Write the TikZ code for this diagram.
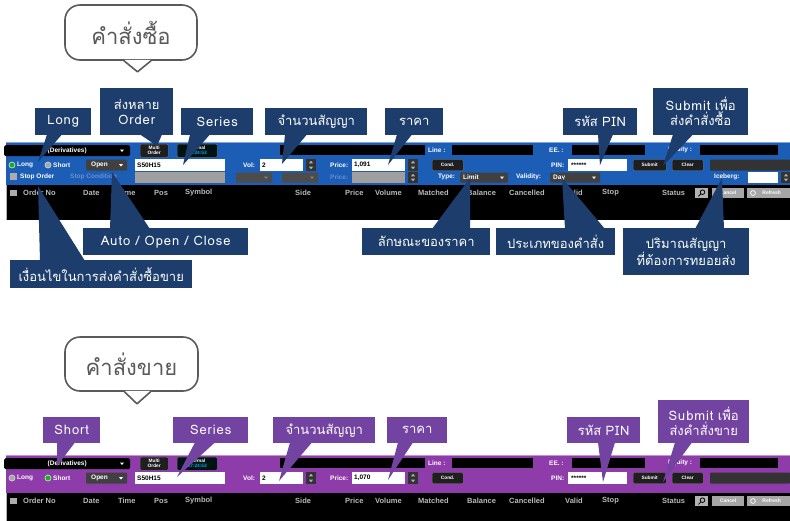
\documentclass[tikz,border=0pt]{standalone}
\usepackage{fontspec}
\setmainfont{Liberation Sans}
\newfontfamily\thai[Script=Thai]{Loma}
\newfontfamily\lw[LetterSpace=7]{Loma}
\usetikzlibrary{calc}
\definecolor{navy}{HTML}{1D3D6C}
\definecolor{pblue}{HTML}{1C5DB6}
\definecolor{plum}{HTML}{7343A2}
\definecolor{ppurp}{HTML}{8D3CA9}
\definecolor{dimtxt}{HTML}{6A8FD0}
\definecolor{bubgray}{HTML}{5A5A5A}
\newcommand\dd[3]{\fill[#3] (#1-2,#2-1) -- (#1+2,#2-1) -- (#1,#2+1.5) -- cycle;}
\newcommand\spin[3]{\fill[black!80] (#1,#2) rectangle ++(10,#3);
 \fill[gray!60] (#1+5,#2+1.8) -- (#1+3,#2+4.3) -- (#1+7,#2+4.3) -- cycle;
 \fill[gray!60] (#1+5,#2+#3-1.8) -- (#1+3,#2+#3-4.3) -- (#1+7,#2+#3-4.3) -- cycle;}
\newcommand\tailS[5]{\fill[#1] ($(#2.south west)+(#3,-1)$) -- (#5) -- ($(#2.south west)+(#4,-1)$) -- cycle;}
\newcommand\tailN[5]{\fill[#1] ($(#2.north west)+(#3,1)$) -- (#5) -- ($(#2.north west)+(#4,1)$) -- cycle;}
% #1 prefix, #2 panel colour, #3 long radio, #4 short radio, #5 price, #6 black top, #7 black bottom, #8 y shift
\newcommand\uipanel[8]{%
\begin{scope}[shift={(0,#8)}, name prefix=#1-]
 \fill[#2] (6,0) rectangle (790,#6);
 \fill[#2!55!white] (6,0) rectangle (790,1.2);
 \fill[black] (6,#6) rectangle (790,#7);
 \draw[gray!60, line width=0.6] (6,#6) -- (6,#7);
 % row 1
 \node[ddbox, anchor=north west, minimum width=126, minimum height=11] (deriv) at (4,3) {(Derivatives)};
 \dd{122}{8.5}{white}
 \node[btn, anchor=north west, minimum width=28, minimum height=13] (multi) at (140,2) {Multi\\Order};
 \node[btn, fill=black!85!teal, anchor=north west, minimum width=40, minimum height=13] (normal) at (177,2) {Normal\\\textcolor{cyan}{17:24:53}};
 \fill[black] (280,3) rectangle (425,13);
 \node[ui] (linel) at (428,8) {Line :};
 \fill[black] (452,3) rectangle (533,13);
 \node[ui] (eel) at (549,8) {EE. :};
 \fill[black] (572,3) rectangle (645,13);
 \node[ui] (eql) at (668,8) {Equity :};
 \fill[black] (700,3) rectangle (778,13);
 % row 2
 \fill[#3, draw=gray!40, line width=0.8] (12,23) circle (3);
 \node[ui] (tlong) at (17,23) {Long};
 \fill[#4, draw=gray!40, line width=0.8] (48,23) circle (3);
 \node[ui] (tshort) at (53,23) {Short};
 \fill[black!75, rounded corners=1] (86,17.5) rectangle (127,28.5);
 \node[ui] (open) at (91,23) {Open};
 \dd{121}{23}{white}
 \fill[white] (135,17) rectangle (225,29);
 \node[ftxt] (series) at (137,23) {S50H15};
 \node[ui] (voll) at (243,23) {Vol:};
 \fill[white] (260,17) rectangle (303,29);
 \node[ftxt] (volf) at (262,23) {2};
 \spin{306}{17}{12}
 \node[ui] (pricel) at (330,23) {Price:};
 \fill[white] (352,17) rectangle (405,29);
 \node[ftxt] (pricef) at (354,23) {#5};
 \spin{408}{17}{12}
 \node[btn, anchor=north west, minimum width=31, minimum height=11] (cond) at (432,17.5) {Cond.};
 \node[ui] (pinl) at (551,23) {PIN:};
 \fill[white] (568,17) rectangle (627,29);
 \node[ftxt] (pinf) at (571,23) {******};
 \node[btn, anchor=north west, minimum width=33, minimum height=11] (submit) at (633,17.5) {Submit};
 \node[btn, anchor=north west, minimum width=31, minimum height=11] (clear) at (672,17.5) {Clear};
 \fill[black!80, rounded corners=1] (710,17.5) rectangle (790,28.5);
 % header
 \fill[gray!65] (10,#6+5) rectangle ++(7,6);
 \node[hdr] (h1) at (23,#6+8) {Order No};
 \node[hdr] (h2) at (83,#6+8) {Date};
 \node[hdr] (h3) at (118,#6+8) {Time};
 \node[hdr] (h4) at (154,#6+8) {Pos};
 \node[hdr] (h5) at (185,#6+8) {Symbol};
 \node[hdr] (h6) at (295,#6+8) {Side};
 \node[hdr] (h7) at (345,#6+8) {Price};
 \node[hdr] (h8) at (375,#6+8) {Volume};
 \node[hdr] (h9) at (418,#6+8) {Matched};
 \node[hdr] (h10) at (467,#6+8) {Balance};
 \node[hdr] (h11) at (509,#6+8) {Cancelled};
 \node[hdr] (h12) at (565,#6+8) {Valid};
 \node[hdr] (h13) at (602,#6+8) {Stop};
 \node[hdr] (h14) at (662,#6+8) {Status};
 \fill[gray!60] (695,#6+3) rectangle (708,#6+13);
 \draw[black, line width=0.8] (702.5,#6+7.2) circle (2.3) (700.8,#6+9) -- (698.5,#6+11.3);
 \node[gbtn, anchor=north west, minimum width=32, minimum height=10] (cancel) at (712,#6+3) {Cancel};
 \node[gbtn, anchor=north west, minimum width=43, minimum height=10] (refresh) at (747,#6+3) {\hspace{6pt}Refresh};
 \draw[white, line width=0.7] (753,#6+8) circle (2.4);
\end{scope}}
\begin{document}
\begin{tikzpicture}[x=1pt,y=-1pt,
  lab/.style={fill=#1, text=white, font=\thai\fontsize{13}{15}\selectfont, inner sep=0, align=center, anchor=north west},
  ui/.style={text=white, font=\bfseries\fontsize{6.5}{7}\selectfont, inner sep=0, anchor=west},
  dim/.style={text=dimtxt, font=\bfseries\fontsize{6.5}{7}\selectfont, inner sep=0, anchor=west},
  ftxt/.style={text=black, font=\bfseries\fontsize{6.5}{7}\selectfont, inner sep=0, anchor=west},
  hdr/.style={text=gray!55!white, font=\bfseries\fontsize{7.5}{8}\selectfont, inner sep=0, anchor=west},
  ddbox/.style={fill=black, rounded corners=1.5, text=white, font=\bfseries\fontsize{6.5}{7}\selectfont, inner sep=0},
  btn/.style={fill=black!88, draw=black!55, rounded corners=1, text=white, font=\bfseries\fontsize{4.8}{5}\selectfont, inner sep=0, align=center},
  gbtn/.style={fill=gray!70, text=white, font=\bfseries\fontsize{5}{6}\selectfont, inner sep=0},
  bubble/.style={draw=bubgray, line width=1.6, fill=white, rounded corners=15, text=bubgray, font=\thai\fontsize{22}{24}\selectfont, inner sep=0}]
\useasboundingbox (0,0) rectangle (790,520);
\fill[white] (0,0) rectangle (790,520);

% ===== top panel (buy) =====
\uipanel{A}{pblue}{green!75!black}{gray!70}{1,091}{43}{78}{142}
\begin{scope}[shift={(0,142)}, name prefix=A-]
 \fill[gray!65] (10,31) rectangle ++(7,7);
 \node[ui] (stop) at (20,35) {Stop Order};
 \node[dim] (stopc) at (70,35) {Stop Condition};
 \fill[gray!75] (135,30) rectangle (225,41);
 \fill[black!70, rounded corners=1] (236,30.5) rectangle (272,40.5); \dd{266}{35.5}{gray}
 \fill[black!70, rounded corners=1] (282,30.5) rectangle (318,40.5); \dd{312}{35.5}{gray}
 \node[dim] (price2) at (330,35) {Price:};
 \fill[gray!75] (352,30) rectangle (405,41);
 \spin{408}{30}{11}
 \node[ui] (typel) at (438,35) {Type:};
 \fill[black!75, rounded corners=1] (460,30.5) rectangle (508,40.5);
 \node[ui] (typev) at (463,35.5) {Limit}; \dd{502}{35.5}{white}
 \node[ui] (vall) at (516,35) {Validity:};
 \fill[black!75, rounded corners=1] (550,30.5) rectangle (600,40.5);
 \node[ui] (valv) at (553,35.5) {Day}; \dd{594}{35.5}{white}
 \node[ui] (icel) at (714,35) {Iceberg:};
 \fill[white] (748,30) rectangle (778,41);
 \spin{781}{30}{11}
\end{scope}

% bubble buy
\node[bubble, minimum width=132, minimum height=55] (b1) at (131,32.5) {คำสั่งซื้อ};
\coordinate (b1tip) at ($(b1.south)+(6.5,11)$);
\fill[white] ($(b1.south)+(-7,-1)$) -- (b1tip) -- ($(b1.south)+(20,-1)$) -- cycle;
\draw[bubgray, line width=1.6, line join=round] ($(b1.south)+(-7,0)$) -- (b1tip) -- ($(b1.south)+(20,0)$);

% top labels
\node[lab=navy, minimum width=56, minimum height=27] (lLong) at (35,108) {\lw Long};
\coordinate (tLong) at (38,162); \tailS{navy}{lLong}{12}{27}{tLong}
\node[lab=navy, minimum width=73, minimum height=47] (lMulti) at (100,88) {ส่งหลาย\\{\lw Order}};
\coordinate (tMulti) at (157,146); \tailS{navy}{lMulti}{40}{62}{tMulti}
\node[lab=navy, minimum width=72, minimum height=27] (lSeries) at (181,108) {\lw Series};
\coordinate (tSeries) at (183,165); \tailS{navy}{lSeries}{9}{29}{tSeries}
\node[lab=navy, minimum width=102, minimum height=27] (lVol) at (265,108) {จำนวนสัญญา};
\coordinate (tVol) at (282,164); \tailS{navy}{lVol}{20}{42}{tVol}
\node[lab=navy, minimum width=58, minimum height=27] (lPrice) at (385,108) {ราคา};
\coordinate (tPrice) at (388,165); \tailS{navy}{lPrice}{12}{27}{tPrice}
\node[lab=navy, minimum width=74, minimum height=27] (lPin) at (563,108) {รหัส {\lw PIN}};
\coordinate (tPin) at (600,165); \tailS{navy}{lPin}{35}{50}{tPin}
\node[lab=navy, minimum width=95, minimum height=47] (lSub) at (653,88) {{\lw Submit} เพื่อ\\ส่งคำสั่งซื้อ};
\coordinate (tSub) at (663,166); \tailS{navy}{lSub}{20}{40}{tSub}

% lower labels
\node[lab=navy, minimum width=165, minimum height=27] (lAuto) at (83,228) {\lw Auto / Open / Close};
\coordinate (tAuto) at (112,172); \tailN{navy}{lAuto}{27}{67}{tAuto}
\node[lab=navy, minimum width=182, minimum height=28] (lCond) at (10,260) {เงื่อนไขในการส่งคำสั่งซื้อขาย};
\coordinate (tCond) at (38,186); \tailN{navy}{lCond}{30}{75}{tCond}
\node[lab=navy, minimum width=128, minimum height=27] (lType) at (362,228) {ลักษณะของราคา};
\coordinate (tType) at (470,178); \tailN{navy}{lType}{70}{108}{tType}
\node[lab=navy, minimum width=119, minimum height=27] (lValid) at (496,228) {ประเภทของคำสั่ง};
\coordinate (tValid) at (562,178); \tailN{navy}{lValid}{69}{109}{tValid}
\node[lab=navy, minimum width=126, minimum height=47] (lIce) at (623,228) {ปริมาณสัญญา\\ที่ต้องการทยอยส่ง};
\coordinate (tIce) at (722,178); \tailN{navy}{lIce}{72}{101}{tIce}

% ===== bottom panel (sell) =====
\uipanel{B}{ppurp}{gray!70}{green!75!black}{1,070}{38}{66}{455}

\node[bubble, minimum width=133, minimum height=54] (b2) at (131.5,364) {คำสั่งขาย};
\coordinate (b2tip) at ($(b2.south)+(5.5,12)$);
\fill[white] ($(b2.south)+(-7,-1)$) -- (b2tip) -- ($(b2.south)+(19,-1)$) -- cycle;
\draw[bubgray, line width=1.6, line join=round] ($(b2.south)+(-7,0)$) -- (b2tip) -- ($(b2.south)+(19,0)$);

\node[lab=plum, minimum width=57, minimum height=26] (pShort) at (43,417) {\lw Short};
\coordinate (qShort) at (57,466); \tailS{plum}{pShort}{14}{32}{qShort}
\node[lab=plum, minimum width=75, minimum height=26] (pSeries) at (173,417) {\lw Series};
\coordinate (qSeries) at (177,477); \tailS{plum}{pSeries}{22}{42}{qSeries}
\node[lab=plum, minimum width=102, minimum height=26] (pVol) at (273,417) {จำนวนสัญญา};
\coordinate (qVol) at (279,481); \tailS{plum}{pVol}{17}{39}{qVol}
\node[lab=plum, minimum width=60, minimum height=26] (pPrice) at (387,417) {ราคา};
\coordinate (qPrice) at (388,480); \tailS{plum}{pPrice}{11}{26}{qPrice}
\node[lab=plum, minimum width=73, minimum height=26] (pPin) at (567,417) {รหัส {\lw PIN}};
\coordinate (qPin) at (603,482); \tailS{plum}{pPin}{31}{48}{qPin}
\node[lab=plum, minimum width=91, minimum height=43] (pSub) at (658,400) {{\lw Submit} เพื่อ\\ส่งคำสั่งขาย};
\coordinate (qSub) at (663,482); \tailS{plum}{pSub}{17}{34}{qSub}
\end{tikzpicture}
\end{document}
